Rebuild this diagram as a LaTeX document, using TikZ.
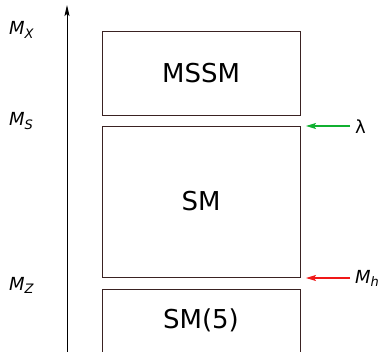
\documentclass[tikz,border=0pt]{standalone}
\usepackage{fontspec}
\setmainfont{DejaVu Sans}
\usetikzlibrary{arrows.meta}
\definecolor{boxline}{HTML}{3A2222}
\definecolor{arrgreen}{HTML}{10B030}
\definecolor{arrred}{HTML}{F01818}
\newcommand{\msub}[1]{{\itshape M\raisebox{-0.35ex}{\fontsize{13}{13}\selectfont #1}}}
\begin{document}
\begin{tikzpicture}[x=1pt,y=-1pt,
  regionbox/.style={draw=boxline,line width=0.9pt,minimum width=198pt,inner sep=0pt,font=\fontsize{26}{26}\selectfont},
  scalelabel/.style={anchor=base west,inner sep=0pt,font=\fontsize{18}{18}\selectfont},
  inarrow/.style={-{Stealth[length=10pt,width=6pt,inset=2pt]},line width=1.1pt}]
\useasboundingbox (0,0) rectangle (379,352);
\coordinate (axbot) at (67,353);
\coordinate (axtop) at (67,5);
\draw[-{Stealth[length=11pt,width=5pt,inset=2pt]},line width=0.9pt] (axbot) -- (axtop);
\node[regionbox,minimum height=84pt] (mssm) at (201,73) {MSSM};
\node[regionbox,minimum height=151pt] (sm) at (201,201.5) {SM};
\node[regionbox,minimum height=90pt,anchor=north] (sm5) at (201,289) {};
\node[font=\fontsize{26}{26}\selectfont] (sm5t) at (201,320) {SM(5)};
\node[scalelabel] (mx) at (9,35) {\msub{X}};
\node[scalelabel] (ms) at (9,126) {\msub{S}};
\node[scalelabel] (mz) at (9,290) {\msub{Z}};
\node[anchor=west,inner sep=0pt,font=\fontsize{18}{18}\selectfont] (lam) at (355,127) {λ};
\node[scalelabel] (mh) at (355,283) {\msub{h}};
\coordinate (gs) at (350,126);
\coordinate (ge) at (306,126);
\coordinate (rs) at (350,278);
\coordinate (re) at (306,278);
\draw[inarrow,arrgreen] (gs) -- (ge);
\draw[inarrow,arrred] (rs) -- (re);
\end{tikzpicture}
\end{document}
